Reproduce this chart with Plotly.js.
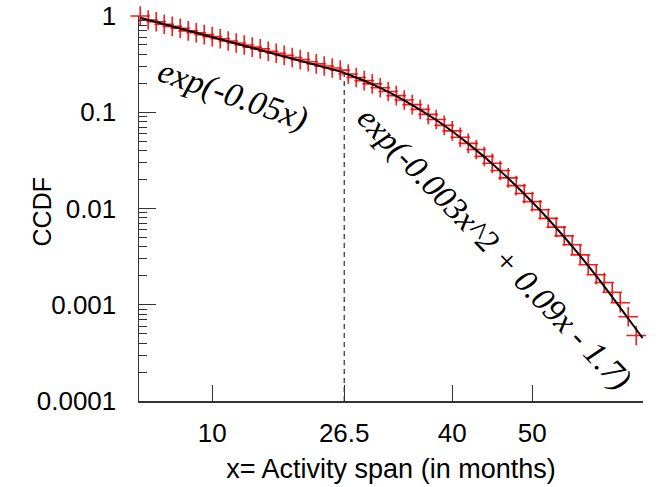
<!DOCTYPE html>
<html>
<head>
<meta charset="utf-8">
<script src="https://cdn.plot.ly/plotly-3.0.1.min.js"></script>
<style>html,body{margin:0;padding:0;background:#fff;}#chart{width:659px;height:487px;}</style>
</head>
<body>
<div id="chart"></div>
<script>
const months = [1,2,3,4,5,6,7,8,9,10,11,12,13,14,15,16,17,18,19,20,21,22,23,24,25,26,
  27,28,29,30,31,32,33,34,35,36,37,38,39,40,41,42,43,44,45,46,47,48,49,50,51,52,53,54,55,56,57,58,59,60,61,62,63];
const ccdf = [1.0,0.91,0.87,0.82,0.78,0.745,0.70,0.67,0.64,0.61,0.58,0.55,0.525,0.50,0.475,0.455,0.43,0.41,0.39,0.37,0.352,0.335,0.318,0.302,0.288,0.274,
  0.25,0.23,0.213,0.197,0.18,0.164,0.149,0.134,0.12,0.107,0.095,0.084,0.073,0.064,0.055,0.0475,0.041,0.0348,0.0295,0.0248,0.0208,0.0173,0.0143,0.0118,
  0.0097,0.0079,0.0064,0.0052,0.0042,0.0033,0.0026,0.00205,0.0017,0.00135,0.00105,0.00075,0.00048];

// Fitted curves
const fit1X = [1, 26.5];
const fit1Y = [0.96, 0.258];
const fit2X = [26.5, 30, 34, 38, 42, 46, 50, 54, 58, 62, 63.8];
const fit2Y = [0.256, 0.196, 0.133, 0.083, 0.0472, 0.0246, 0.0117, 0.00506, 0.0020, 0.00072, 0.00045];

// Breakpoint marker
const breakX = [26.5, 26.5];
const breakY = [0.0001, 0.262];

// Tick labels
const xTickVals = [10, 26.5, 40, 50];
const xTickText = ['10', '26.5', '40', '50'];
const yTickVals = [1, 0.1, 0.01, 0.001, 0.0001];
const yTickText = ['1', '0.1', '0.01', '0.001', '0.0001'];

const traces = [
  {x: breakX, y: breakY, mode: 'lines', line: {color: '#000', width: 1, dash: '5px,4px'}, hoverinfo: 'skip', cliponaxis: false},
  {x: months, y: ccdf, mode: 'markers', cliponaxis: false,
   marker: {symbol: 'cross-thin', size: 14, color: 'rgba(255,0,0,0.9)', line: {color: 'rgba(255,0,0,0.9)', width: 1.6}}},
  {x: fit1X, y: fit1Y, mode: 'lines', line: {color: '#000', width: 2}, cliponaxis: false},
  {x: fit2X, y: fit2Y, mode: 'lines', line: {color: '#000', width: 2, shape: 'spline'}, cliponaxis: false}
];

const layout = {
  width: 659, height: 487,
  margin: {l: 139, r: 16, t: 16, b: 86, pad: 0},
  paper_bgcolor: '#fff', plot_bgcolor: '#fff',
  showlegend: false,
  font: {family: 'Liberation Sans, Arial, sans-serif', color: '#000'},
  xaxis: {
    range: [0.85, 63.85], showgrid: false, zeroline: false,
    showline: true, linecolor: '#333', linewidth: 1.5,
    ticks: 'inside', ticklen: 16, tickwidth: 1.2, tickcolor: '#333',
    tickvals: xTickVals, ticktext: xTickText,
    tickfont: {size: 26}, ticklabelstandoff: 8,
    title: {text: 'x= Activity span (in months)', font: {size: 27}, standoff: 12}
  },
  yaxis: {
    type: 'log', range: [-4, 0], showgrid: false, zeroline: false,
    showline: true, linecolor: '#333', linewidth: 1.5,
    ticks: 'inside', ticklen: 17, tickwidth: 1.2, tickcolor: '#333',
    tickvals: yTickVals, ticktext: yTickText,
    tickfont: {size: 26}, ticklabelstandoff: 16,
    minor: {ticks: 'inside', ticklen: 8, tickwidth: 1, tickcolor: '#333', dtick: 'D1', showgrid: false},
    title: {text: ''}
  },
  annotations: [
    {x: -0.224, y: 0.49, xref: 'paper', yref: 'paper', text: 'CCDF', showarrow: false,
     textangle: -90, font: {family: 'Liberation Sans, Arial, sans-serif', size: 25, color: '#000'}},
    {x: 12.6, y: -0.821, xref: 'x', yref: 'y', text: '<i>exp(-0.05x)</i>', showarrow: false,
     textangle: 19, font: {family: 'Liberation Serif, Times New Roman, serif', size: 34, color: '#000'}},
    {x: 45.2, y: -2.42, xref: 'x', yref: 'y', text: '<i>exp(-0.003x^2 + 0.09x - 1.7)</i>', showarrow: false,
     textangle: 46, font: {family: 'Liberation Serif, Times New Roman, serif', size: 33, color: '#000'}}
  ]
};

Plotly.newPlot('chart', traces, layout, {displayModeBar: false, staticPlot: true});
</script>
</body>
</html>
